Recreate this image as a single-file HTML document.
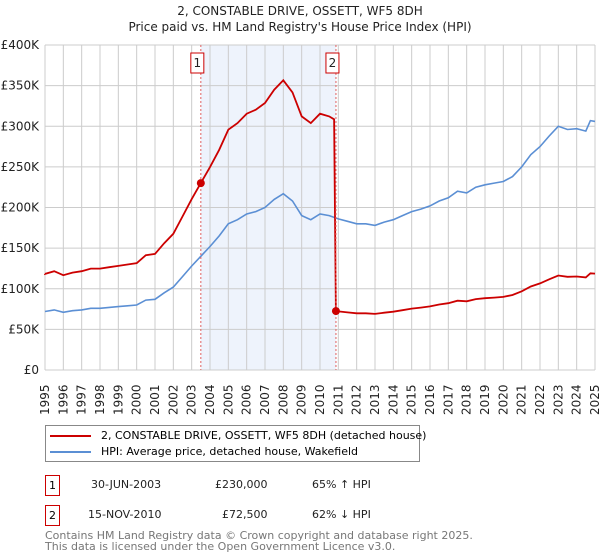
<!DOCTYPE html>
<html><head><meta charset="utf-8">
<style>
body{margin:0;background:#fff;font-family:"DejaVu Sans","Liberation Sans",sans-serif;}
#wrap{position:relative;width:600px;height:560px;overflow:hidden;}
.t{position:absolute;white-space:nowrap;color:#222;}
</style></head>
<body>
<div id="wrap">
<div class="t" style="left:0;width:600px;text-align:center;top:4px;font-size:12px;">2, CONSTABLE DRIVE, OSSETT, WF5 8DH</div>
<div class="t" style="left:0;width:600px;text-align:center;top:20px;font-size:12px;">Price paid vs. HM Land Registry's House Price Index (HPI)</div>
<svg id="svg" width="600" height="420" style="position:absolute;left:0;top:0"></svg>
<div style="position:absolute;left:45px;top:425px;width:373px;height:35px;border:1px solid #888;font-size:11px;white-space:nowrap;">
  <div style="position:absolute;left:4px;top:3px;"><span style="display:inline-block;width:41px;height:2px;background:#cc0000;vertical-align:middle;margin-right:10px;"></span>2, CONSTABLE DRIVE, OSSETT, WF5 8DH (detached house)</div>
  <div style="position:absolute;left:4px;top:19px;"><span style="display:inline-block;width:41px;height:2px;background:#5b8fd4;vertical-align:middle;margin-right:10px;"></span>HPI: Average price, detached house, Wakefield</div>
</div>
<div style="position:absolute;left:45px;top:475px;font-size:11px;width:400px;height:22px;">
  <div style="position:absolute;left:0;top:0;width:13px;height:19px;border:1px solid #cc0000;text-align:center;line-height:19px;">1</div>
  <div class="t" style="left:46px;top:3px;">30-JUN-2003</div>
  <div class="t" style="left:170px;top:3px;">£230,000</div>
  <div class="t" style="left:267px;top:3px;">65% ↑ HPI</div>
</div>
<div style="position:absolute;left:45px;top:505px;font-size:11px;width:400px;height:22px;">
  <div style="position:absolute;left:0;top:0;width:13px;height:19px;border:1px solid #cc0000;text-align:center;line-height:19px;">2</div>
  <div class="t" style="left:43px;top:3px;">15-NOV-2010</div>
  <div class="t" style="left:177px;top:3px;">£72,500</div>
  <div class="t" style="left:267px;top:3px;">62% ↓ HPI</div>
</div>
<div class="t" style="left:45px;top:531px;font-size:11px;color:#777;line-height:10.5px;">Contains HM Land Registry data © Crown copyright and database right 2025.<br>This data is licensed under the Open Government Licence v3.0.</div>
</div>
<script>
const hpiYears=[1995,1995.5,1996,1996.5,1997,1997.5,1998,1998.5,1999,1999.5,2000,2000.5,2001,2001.5,2002,2002.5,2003,2003.5,2004,2004.5,2005,2005.5,2006,2006.5,2007,2007.5,2008,2008.5,2009,2009.5,2010,2010.5,2011,2011.5,2012,2012.5,2013,2013.5,2014,2014.5,2015,2015.5,2016,2016.5,2017,2017.5,2018,2018.5,2019,2019.5,2020,2020.5,2021,2021.5,2022,2022.5,2023,2023.5,2024,2024.5,2024.75,2025];
const hpiValues=[72,74,71,73,74,76,76,77,78,79,80,86,87,95,102,115,128,140,152,165,180,185,192,195,200,210,217,208,190,185,192,190,186,183,180,180,178,182,185,190,195,198,202,208,212,220,218,225,228,230,232,238,250,265,275,288,300,296,297,294,307,306];
const saleDates=[2003.5,2010.87];
const salePrices=[230,72.5];
const saleLabels=["1","2"];
const yTicks=[0,50,100,150,200,250,300,350,400];
const yTickLabels=["£0","£50K","£100K","£150K","£200K","£250K","£300K","£350K","£400K"];
const xYears=[1995,1996,1997,1998,1999,2000,2001,2002,2003,2004,2005,2006,2007,2008,2009,2010,2011,2012,2013,2014,2015,2016,2017,2018,2019,2020,2021,2022,2023,2024,2025];

const L=45,R=595,T=45,B=370;
const xs=y=>L+(y-1995)/30*(R-L);
const ys=v=>B-v/400*(B-T);
const svg=document.getElementById('svg');
const NS='http://www.w3.org/2000/svg';
const FF='DejaVu Sans, Liberation Sans, sans-serif';
function mk(tag,attrs){const e=document.createElementNS(NS,tag);for(const k in attrs)e.setAttribute(k,attrs[k]);svg.appendChild(e);return e;}
function hpiAt(t){for(let i=0;i<hpiYears.length-1;i++){if(t<=hpiYears[i+1]){const f=(t-hpiYears[i])/(hpiYears[i+1]-hpiYears[i]);return hpiValues[i]+f*(hpiValues[i+1]-hpiValues[i]);}}return hpiValues[hpiValues.length-1];}

let band=mk('rect',{x:xs(saleDates[0]),y:T,width:xs(saleDates[1])-xs(saleDates[0]),height:B-T,fill:'#eef3fc'});


xYears.forEach(y=>{let g=mk('line',{x1:xs(y),x2:xs(y),y1:T,y2:B,stroke:'#cccccc','stroke-width':1});


let tx=mk('text',{x:0,y:0,transform:`translate(${xs(y)+4},${B+45}) rotate(-90)`,'font-size':12,fill:'#222','font-family':FF});tx.textContent=y;

});
yTicks.forEach((v,i)=>{let g=mk('line',{x1:L,x2:R,y1:ys(v),y2:ys(v),stroke:'#cccccc','stroke-width':1});


let tx=mk('text',{x:L-6,y:ys(v)+4,'text-anchor':'end','font-size':12,fill:'#222','font-family':FF});tx.textContent=yTickLabels[i];

});
let d='';hpiYears.forEach((y,i)=>{d+=(i?'L':'M')+xs(y).toFixed(1)+','+ys(hpiValues[i]).toFixed(1);});
let hl=mk('path',{d,fill:'none',stroke:'#5b8fd4','stroke-width':1.6});


const r1=salePrices[0]/hpiAt(saleDates[0]),r2=salePrices[1]/hpiAt(saleDates[1]);
let pd='M'+xs(1995)+','+ys(hpiValues[0]*r1);
hpiYears.forEach((y,i)=>{if(y<saleDates[1])pd+='L'+xs(y).toFixed(1)+','+ys(hpiValues[i]*r1).toFixed(1);});
pd+='L'+xs(saleDates[1]-0.1).toFixed(1)+','+ys(hpiAt(saleDates[1]-0.1)*r1).toFixed(1);
pd+='L'+xs(saleDates[1]).toFixed(1)+','+ys(salePrices[1]).toFixed(1);
hpiYears.forEach((y,i)=>{if(y>saleDates[1])pd+='L'+xs(y).toFixed(1)+','+ys(hpiValues[i]*r2).toFixed(1);});
let pl=mk('path',{d:pd,fill:'none',stroke:'#cc0000','stroke-width':1.8});


saleDates.forEach((s,i)=>{
 let vl=mk('line',{x1:xs(s),x2:xs(s),y1:T,y2:B,stroke:'#e06060','stroke-width':1,'stroke-dasharray':'2,2'});
 
 
 let c=mk('circle',{cx:xs(s),cy:ys(salePrices[i]),r:4,fill:'#cc0000'});
 
 
 let bx=mk('rect',{x:xs(s)-10,y:53,width:13,height:20,fill:'#fff',stroke:'#cc0000','stroke-width':1});
 
 
 let bt=mk('text',{x:xs(s)-3.5,y:67,'text-anchor':'middle','font-size':12,fill:'#222','font-family':FF});bt.textContent=saleLabels[i];
 
 
});
</script>
</body></html>
